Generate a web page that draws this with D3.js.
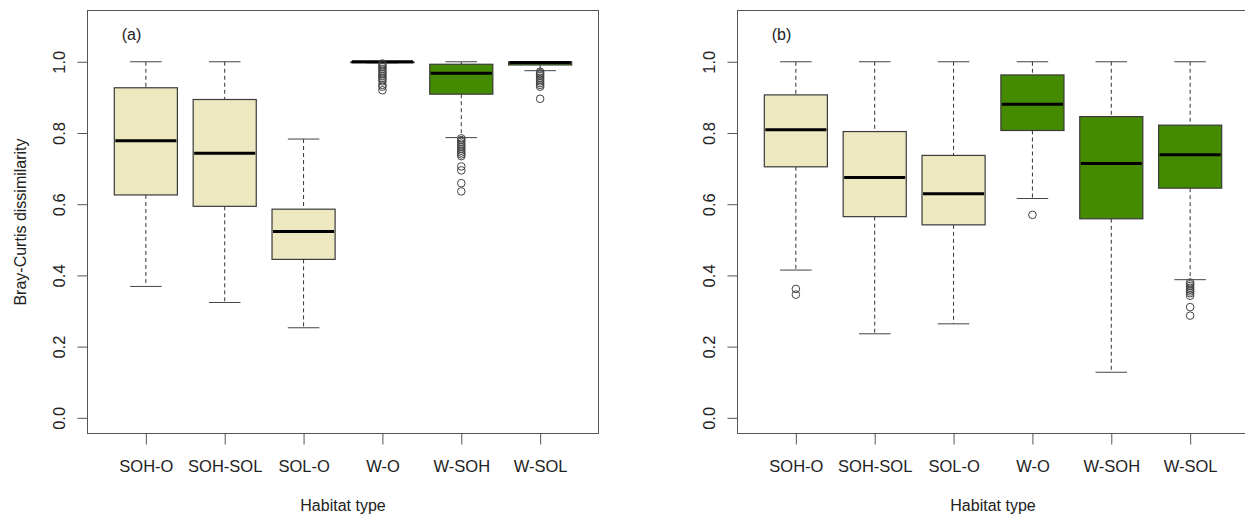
<!DOCTYPE html>
<html>
<head>
<meta charset="utf-8">
<script src="https://cdn.jsdelivr.net/npm/d3@7"></script>
<style>
  body { margin: 0; background: #fff; }
  text { font-family: "Liberation Sans", Arial, sans-serif; }
</style>
</head>
<body>
<div id="chart"></div>
<script>
//global data
var categories = ['SOH-O', 'SOH-SOL', 'SOL-O', 'W-O', 'W-SOH', 'W-SOL'];
var yTicks = [0, 0.2, 0.4, 0.6, 0.8, 1.0];

//panel (a) box stats
var aLower = [0.369, 0.324, 0.253, 0.997, 0.787, 0.975];
var aQ1 = [0.626, 0.594, 0.445, 0.998, 0.909, 0.991];
var aMedian = [0.778, 0.743, 0.523, 1.0, 0.968, 0.998];
var aQ3 = [0.927, 0.894, 0.586, 1.0, 0.993, 1.0];
var aUpper = [1.0, 1.0, 0.783, 1.0, 1.0, 1.0];
var aOutliers = [
  [],
  [],
  [],
  [0.995, 0.99, 0.985, 0.98, 0.975, 0.97, 0.965, 0.96, 0.955, 0.95, 0.945, 0.935, 0.93, 0.92],
  [0.785, 0.78, 0.775, 0.77, 0.765, 0.76, 0.755, 0.75, 0.745, 0.74, 0.735, 0.706, 0.695, 0.659, 0.636],
  [0.972, 0.968, 0.964, 0.96, 0.955, 0.95, 0.945, 0.94, 0.935, 0.93, 0.896]
];

//panel (b) box stats
var bLower = [0.415, 0.236, 0.264, 0.616, 0.128, 0.388];
var bQ1 = [0.705, 0.565, 0.542, 0.807, 0.559, 0.645];
var bMedian = [0.809, 0.675, 0.629, 0.881, 0.714, 0.739];
var bQ3 = [0.907, 0.804, 0.737, 0.963, 0.846, 0.822];
var bUpper = [1.0, 1.0, 1.0, 1.0, 1.0, 1.0];
var bOutliers = [
  [0.362, 0.346],
  [],
  [],
  [0.570],
  [],
  [0.38, 0.375, 0.37, 0.365, 0.36, 0.355, 0.35, 0.343, 0.311, 0.287]
];

var width = 1245;
var height = 517;

var svg = d3.select('#chart').append('svg')
  .attr('width', width)
  .attr('height', height);

//shared y scale (R style ylim 0..1.1 with 4% extension)
var y = d3.scaleLinear()
  .domain([-0.044, 1.144])
  .range([433.5, 10.5]);

drawPanel(87.5, 598.5, '(a)', aLower, aQ1, aMedian, aQ3, aUpper, aOutliers, true);
drawPanel(737.5, 1248.5, '(b)', bLower, bQ1, bMedian, bQ3, bUpper, bOutliers, false);

function drawPanel(left, right, label, lower, q1, med, q3, upper, outliers, showYTitle) {
  var x = d3.scaleLinear()
    .domain([0.26, 6.74])
    .range([left, right]);

  var g = svg.append('g');

  var stats = categories.map(function(c, i) {
    return {
      key: c,
      pos: i + 1,
      lower: lower[i],
      q1: q1[i],
      med: med[i],
      q3: q3[i],
      upper: upper[i],
      out: outliers[i],
      fill: i < 3 ? '#EEE8C0' : '#458B00'
    };
  });

  var box = g.selectAll('.box')
    .data(stats)
    .enter().append('g')
    .attr('class', 'box');

  //whiskers (dashed)
  box.append('line')
    .attr('x1', function(d) { return x(d.pos); })
    .attr('x2', function(d) { return x(d.pos); })
    .attr('y1', function(d) { return y(d.upper); })
    .attr('y2', function(d) { return y(d.q3); })
    .attr('stroke', '#333')
    .attr('stroke-dasharray', '4,3');
  box.append('line')
    .attr('x1', function(d) { return x(d.pos); })
    .attr('x2', function(d) { return x(d.pos); })
    .attr('y1', function(d) { return y(d.q1); })
    .attr('y2', function(d) { return y(d.lower); })
    .attr('stroke', '#333')
    .attr('stroke-dasharray', '4,3');

  //caps
  ['upper', 'lower'].forEach(function(k) {
    box.append('line')
      .attr('x1', function(d) { return x(d.pos - 0.2); })
      .attr('x2', function(d) { return x(d.pos + 0.2); })
      .attr('y1', function(d) { return y(d[k]); })
      .attr('y2', function(d) { return y(d[k]); })
      .attr('stroke', '#444');
  });

  //box
  box.append('rect')
    .attr('x', function(d) { return x(d.pos - 0.4); })
    .attr('width', function(d) { return x(d.pos + 0.4) - x(d.pos - 0.4); })
    .attr('y', function(d) { return y(d.q3); })
    .attr('height', function(d) { return Math.max(y(d.q1) - y(d.q3), 1); })
    .attr('fill', function(d) { return d.fill; })
    .attr('stroke', '#3a3a3a')
    .attr('stroke-width', 1.2);

  //median
  box.append('line')
    .attr('x1', function(d) { return x(d.pos - 0.4) + 1; })
    .attr('x2', function(d) { return x(d.pos + 0.4) - 1; })
    .attr('y1', function(d) { return y(d.med); })
    .attr('y2', function(d) { return y(d.med); })
    .attr('stroke', '#000')
    .attr('stroke-width', 3);

  //outliers
  box.selectAll('circle')
    .data(function(d) {
      return d.out.map(function(v) { return { pos: d.pos, v: v }; });
    })
    .enter().append('circle')
    .attr('cx', function(d) { return x(d.pos); })
    .attr('cy', function(d) { return y(d.v); })
    .attr('r', 3.8)
    .attr('fill', 'none')
    .attr('stroke', '#444')
    .attr('stroke-width', 1);

  //frame
  g.append('rect')
    .attr('x', left)
    .attr('y', 10.5)
    .attr('width', right - left)
    .attr('height', 423)
    .attr('fill', 'none')
    .attr('stroke', '#555');

  //y axis
  var yAxis = g.append('g')
    .attr('transform', 'translate(' + left + ',0)')
    .call(d3.axisLeft(y).tickValues(yTicks).tickFormat(d3.format('.1f')).tickSize(10));
  yAxis.select('.domain').remove();
  yAxis.selectAll('line').attr('stroke', '#555');
  yAxis.selectAll('text')
    .attr('x', 0)
    .attr('y', 0)
    .attr('dy', 0)
    .attr('transform', 'translate(-23,0) rotate(-90)')
    .attr('text-anchor', 'middle')
    .attr('fill', '#222')
    .style('font-size', '16.5px');

  //x axis
  var xAxis = g.append('g')
    .attr('transform', 'translate(0,433.5)')
    .call(d3.axisBottom(x).tickValues([1, 2, 3, 4, 5, 6]).tickFormat(function(d) {
      return categories[d - 1];
    }).tickSize(11));
  xAxis.select('.domain').remove();
  xAxis.selectAll('line').attr('stroke', '#555');
  xAxis.selectAll('text')
    .attr('y', 38)
    .attr('dy', 0)
    .attr('fill', '#222')
    .style('font-size', '16.5px');

  //x title
  g.append('text')
    .attr('x', (left + right) / 2)
    .attr('y', 511)
    .attr('text-anchor', 'middle')
    .attr('fill', '#222')
    .style('font-size', '16px')
    .text('Habitat type');

  //panel label
  g.append('text')
    .attr('x', left + 44)
    .attr('y', 40)
    .attr('text-anchor', 'middle')
    .attr('fill', '#222')
    .style('font-size', '16px')
    .text(label);

  if (showYTitle) {
    g.append('text')
      .attr('transform', 'translate(26,222) rotate(-90)')
      .attr('text-anchor', 'middle')
      .attr('fill', '#222')
      .style('font-size', '16px')
      .text('Bray-Curtis dissimilarity');
  }
}
</script>
</body>
</html>
